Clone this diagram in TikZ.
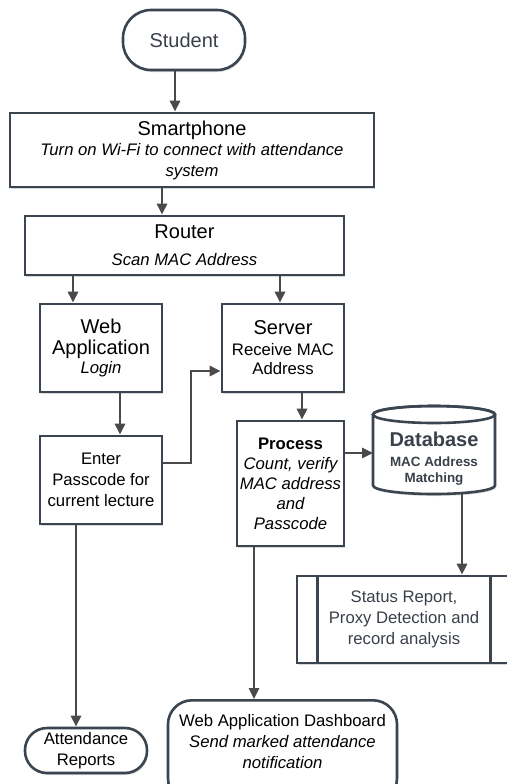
\documentclass[tikz,border=0pt]{standalone}
\usepackage{fontspec}
\setmainfont{Liberation Sans}
\usetikzlibrary{arrows.meta,shadows}
\definecolor{edgecol}{HTML}{3A4550}
\definecolor{linkcol}{HTML}{4A4A4A}
\definecolor{softtext}{HTML}{3A414A}
\newcommand\fsmain{\fontsize{16.7}{21}\selectfont}
\newcommand\fshead{\fontsize{20}{24}\selectfont}
\newcommand\fssmall{\fontsize{13.4}{17}\selectfont}
\begin{document}
\begin{tikzpicture}[x=1pt,y=-1pt,
  softshadow/.style={drop shadow={shadow xshift=1pt,shadow yshift=-2pt,opacity=0.15,fill=black}},
  box/.style={draw=edgecol,line width=2.6pt,fill=white,inner sep=0pt,align=center,softshadow,font=\fsmain},
  pill/.style={box,rounded corners=#1},
  dbtext/.style={inner sep=0pt,text=softtext,font=\bfseries},
  link/.style={draw=linkcol,line width=2.6pt,-{Triangle[length=11pt,width=10pt]}}]

% page
\fill[white] (0,0) rectangle (506,784);
\useasboundingbox (0,0) rectangle (506,784);

% nodes
\node[pill=28pt,minimum width=122pt,minimum height=60pt,text=softtext] (student) at (184,40) {\fshead Student};

\node[box,minimum width=364pt,minimum height=74pt] (smart) at (192,150)
  {\fshead Smartphone\\[-1pt] \itshape Turn on Wi-Fi to connect with attendance\\ \itshape system};

\node[box,minimum width=319pt,minimum height=59pt] (router) at (184.5,245.5)
  {\fshead Router\\[6pt] \itshape Scan MAC Address};

\node[box,minimum width=122pt,minimum height=88pt] (web) at (101,348)
  {\fshead Web\\ \fshead Application\\[-2pt] \itshape Login};

\node[box,minimum width=122pt,minimum height=88pt] (server) at (283,348)
  {\fshead Server\\ Receive MAC\\[-2pt] Address};

\node[box,minimum width=122pt,minimum height=88pt] (enter) at (101,480)
  {Enter\\ Passcode for\\ current lecture};

\node[box,minimum width=107pt,minimum height=125pt] (process) at (290.5,483.5)
  {\bfseries Process\\[-1pt] \itshape Count, verify\\[-1pt] \itshape MAC address\\[-1pt] \itshape and\\[-1pt] \itshape Passcode};

% database drum
\filldraw[draw=edgecol,fill=white,line width=2.6pt,softshadow]
  (373,414.5) -- (373,485.5) arc[start angle=180,end angle=0,x radius=61,y radius=8.5]
  -- (495,414.5) arc[start angle=0,end angle=-180,x radius=61,y radius=8.5] -- cycle;
\draw[edgecol,line width=2.6pt] (434,414.5) ellipse[x radius=61,y radius=8.5];
\node[dbtext,font=\fshead\bfseries] (db) at (434,439) {Database};
\node[dbtext,font=\fssmall\bfseries] (dbline1) at (434,462) {MAC Address};
\node[dbtext,font=\fssmall\bfseries] (dbline2) at (434,479) {Matching};
\coordinate (dbw) at (373,453);
\coordinate (dbs) at (462,494);

% predefined process box
\node[box,minimum width=214pt,minimum height=87pt,text=softtext] (status) at (404,619.5)
  {Status Report,\\ Proxy Detection and\\ record analysis};
\draw[edgecol,line width=2.6pt] ([xshift=22pt]status.north west) -- ([xshift=22pt]status.south west);
\draw[edgecol,line width=2.6pt] ([xshift=-22pt]status.north east) -- ([xshift=-22pt]status.south east);

% terminals at the bottom
\node[pill=24pt,minimum width=229pt,minimum height=102pt,anchor=north] (dash) at (282.5,699) {};
\node[align=center,inner sep=0pt,font=\fsmain] (dashtext) at (282.5,742)
  {Web Application Dashboard\\ \itshape Send marked attendance\\ \itshape notification};

\node[pill=22pt,minimum width=122pt,minimum height=45pt] (attend) at (86,750.5)
  {Attendance\\ Reports};

% connectors
\draw[link] ([xshift=-9pt]student.south) -- ([xshift=-9pt]student.south |- smart.north);
\draw[link] ([xshift=-30pt]smart.south) -- ([xshift=-30pt]smart.south |- router.north);
\draw[link] ([xshift=-28pt]web.north |- router.south) -- ([xshift=-28pt]web.north);
\draw[link] ([xshift=-3pt]server.north |- router.south) -- ([xshift=-3pt]server.north);
\draw[link] ([xshift=19pt]web.south) -- ([xshift=19pt]web.south |- enter.north);
\coordinate (bend) at (191,400);
\draw[link] ([yshift=17pt]enter.east) -- ([yshift=17pt]enter.east -| bend)
  -- ([yshift=-23pt]server.west -| bend) -- ([yshift=-23pt]server.west);
\draw[link] ([xshift=11.5pt]process.north |- server.south) -- ([xshift=11.5pt]process.north);
\draw[link] ([yshift=30.5pt]process.east) -- ([yshift=30.5pt]process.east -| dbw);
\draw[link] (dbs) -- (dbs |- status.north);
\draw[link] ([xshift=-36.5pt]process.south) -- ([xshift=-36.5pt]process.south |- dash.north);
\draw[link] ([xshift=-25pt]enter.south) -- ([xshift=-25pt]enter.south |- attend.north);
\end{tikzpicture}
\end{document}
